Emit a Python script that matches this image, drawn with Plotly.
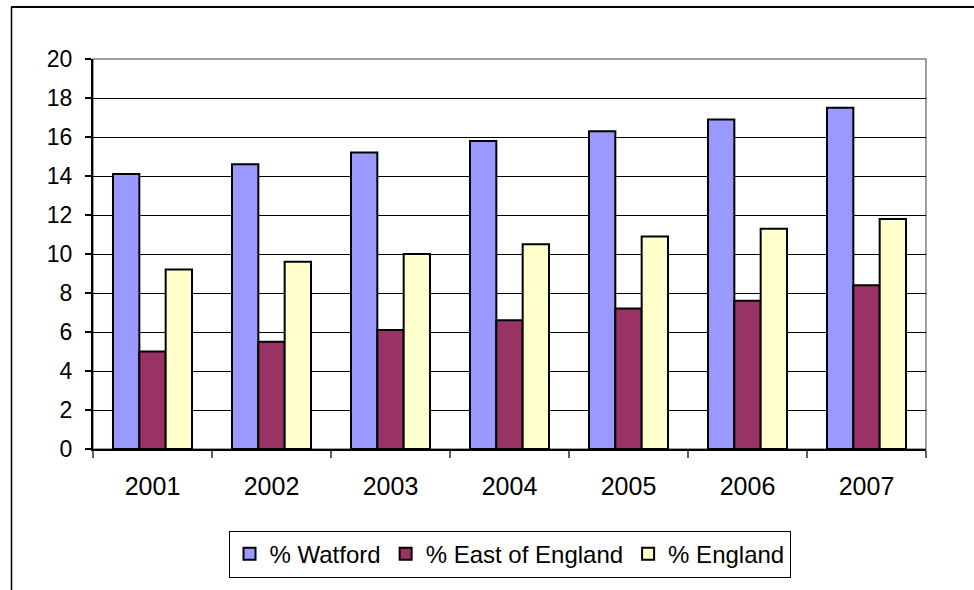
import plotly.graph_objects as go

years = ["2001", "2002", "2003", "2004", "2005", "2006", "2007"]
watford = [14.1, 14.6, 15.2, 15.8, 16.3, 16.9, 17.5]
east = [5.0, 5.5, 6.1, 6.6, 7.2, 7.6, 8.4]
england = [9.2, 9.6, 10.0, 10.5, 10.9, 11.3, 11.8]
y_ticks = list(range(0, 21, 2))

series = [
    ("% Watford", watford, "#9999FF"),
    ("% East of England", east, "#993366"),
    ("% England", england, "#FFFFCC"),
]

FONT = "Liberation Sans, Arial, sans-serif"

fig = go.Figure()
for name, vals, col in series:
    fig.add_trace(go.Bar(
        x=years, y=vals, name=name,
        marker=dict(color=col, line=dict(color="black", width=2)),
    ))

L, R, T, B = 93, 48, 59, 138
W, H = 974, 590
pw, ph = W - L - R, H - T - B

def px2x(px):
    return (px - L) / pw

def py2y(py):
    return (H - B - py) / ph

shapes = [
    # plot area border
    dict(type="rect", xref="paper", yref="paper", x0=0, x1=1, y0=0, y1=1,
         line=dict(color="#808080", width=1.5), layer="below"),
    # outer chart frame (partially visible)
    dict(type="line", xref="paper", yref="paper", x0=px2x(11), x1=px2x(980),
         y0=py2y(6.5), y1=py2y(6.5), line=dict(color="black", width=2)),
    dict(type="line", xref="paper", yref="paper", x0=px2x(11.5), x1=px2x(11.5),
         y0=py2y(6.5), y1=py2y(600), line=dict(color="black", width=1.5)),
]

fig.update_layout(
    width=W, height=H,
    margin=dict(l=L, r=R, t=T, b=B, pad=0),
    paper_bgcolor="white", plot_bgcolor="white",
    barmode="group", bargap=0.336, bargroupgap=0,
    font=dict(family=FONT, size=23, color="black"),
    showlegend=True,
    legend=dict(
        orientation="h", x=0.5, xanchor="center", y=py2y(558), yanchor="middle",
        bordercolor="black", borderwidth=1, bgcolor="white",
        font=dict(family=FONT, size=24, color="black"),
        itemsizing="constant", itemwidth=30,
    ),
    shapes=shapes,
    xaxis=dict(
        type="category", showgrid=False, showline=True, linecolor="black", linewidth=1.5,
        ticks="outside", tickson="boundaries", ticklen=7, tickcolor="#606060", tickwidth=1.5,
        ticklabelstandoff=14,
        tickfont=dict(family=FONT, size=25), fixedrange=True,
    ),
    yaxis=dict(
        range=[0, 20], tickvals=y_ticks, showgrid=True, gridcolor="black", gridwidth=1,
        showline=True, linecolor="black", linewidth=2, zeroline=False,
        ticks="outside", ticklen=6, tickcolor="black", tickwidth=1.5,
        ticklabelstandoff=8,
        tickfont=dict(family=FONT, size=23), fixedrange=True,
    ),
)

fig.write_html("out.html")
